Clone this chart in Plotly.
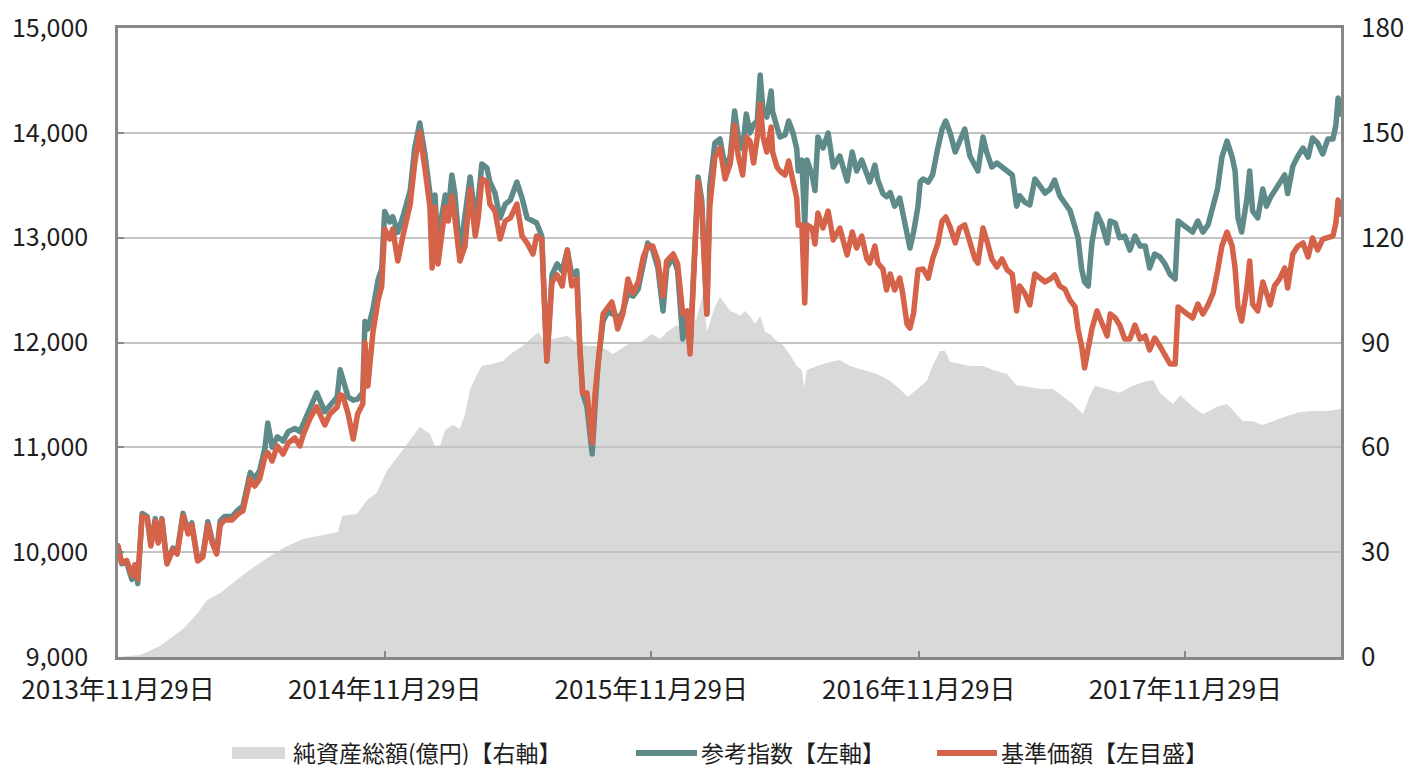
import pandas as pd
import plotly.graph_objects as go

# ---------------- data ----------------
start_date = "2013-11-29"
end_date = "2018-06-30"

# observation dates expressed as days since 2013-11-29
line_days = [
    0, 5, 12, 19, 23, 27, 33, 40, 45, 51, 55, 60, 67, 75, 81, 89, 96, 101, 109, 116,
    123, 129, 135, 140, 146, 156, 164, 171, 181, 187, 194, 201, 205, 211, 218, 226, 233, 242, 249, 253,
    263, 272, 283, 290, 300, 304, 308, 315, 322, 328, 335, 338, 342, 349, 356, 361, 365, 372, 376, 383,
    390, 396, 400, 406, 413, 420, 427, 430, 434, 438, 443, 448, 452, 457, 461, 468, 475, 482, 489, 493,
    498, 505, 509, 516, 523, 530, 537, 546, 553, 560, 568, 573, 580, 587, 594, 601, 608, 615, 621, 628,
    632, 636, 642, 649, 653, 657, 664, 671, 676, 680, 684, 691, 698, 705, 712, 719, 725, 732, 739, 746,
    751, 760, 766, 773, 779, 783, 787, 794, 799, 806, 810, 817, 824, 831, 838, 844, 849, 855, 860, 865,
    870, 875, 879, 883, 888, 894, 896, 902, 906, 913, 918, 924, 929, 931, 936, 940, 943, 950, 954, 958,
    965, 972, 979, 988, 998, 1005, 1011, 1018, 1025, 1029, 1036, 1040, 1047, 1052, 1057, 1063, 1070, 1074, 1080, 1084,
    1089, 1095, 1098, 1102, 1109, 1115, 1122, 1128, 1133, 1139, 1146, 1152, 1159, 1166, 1173, 1177, 1184, 1189, 1196, 1203,
    1210, 1217, 1224, 1230, 1234, 1241, 1248, 1255, 1262, 1269, 1276, 1282, 1289, 1296, 1303, 1310, 1314, 1319, 1323, 1328,
    1333, 1340, 1347, 1354, 1358, 1365, 1371, 1378, 1385, 1392, 1399, 1406, 1412, 1419, 1426, 1433, 1440, 1447, 1451, 1458,
    1464, 1471, 1478, 1485, 1492, 1499, 1505, 1511, 1518, 1525, 1529, 1533, 1538, 1545, 1549, 1553, 1560, 1567, 1572, 1577,
    1583, 1590, 1597, 1601, 1608, 1615, 1622, 1629, 1635, 1642, 1649, 1656, 1663, 1667, 1670, 1674,
]

# 基準価額 (left axis)
nav = [
    10050, 9900, 9920, 9780, 9880, 9744, 10345, 10326, 10059, 10297, 10087, 10307, 9887, 10021, 9982, 10345, 10173, 10259, 9916, 9954,
    10259, 10087, 9982, 10259, 10307, 10307, 10364, 10393, 10698, 10631, 10698, 10908, 10950, 10870, 11013, 10936, 11041, 11089, 11013, 11108,
    11280, 11385, 11213, 11318, 11385, 11500, 11490, 11318, 11079, 11318, 11413, 12000, 11585, 12100, 12405, 12539, 13083, 12987, 13083, 12777,
    13016, 13188, 13321, 13703, 14008, 13665, 13292, 12711, 13292, 12749, 12987, 13292, 13159, 13398, 13188, 12777, 12920, 13464, 13016, 13188,
    13560, 13531, 13321, 13254, 12987, 13159, 13188, 13321, 13016, 12949, 12844, 13016, 12987, 11824, 12577, 12644, 12539, 12882, 12539, 12606,
    11967, 11518, 11518, 11041, 11518, 11795, 12272, 12339, 12386, 12272, 12129, 12272, 12606, 12472, 12577, 12816, 12920, 12920, 12777, 12443,
    12777, 12844, 12749, 12272, 12301, 11891, 12606, 13531, 13292, 12272, 13292, 13769, 13855, 13560, 13703, 14075, 13779, 13598, 13960, 13922,
    13712, 13960, 14275, 13960, 13817, 14056, 13817, 13674, 13636, 13598, 13731, 13560, 13378, 13121, 13121, 12377, 13121, 13092, 12940, 13235,
    13092, 13254, 12978, 13092, 12835, 13054, 12901, 13016, 12797, 12758, 12920, 12758, 12701, 12501, 12653, 12501, 12615, 12472, 12176, 12138,
    12281, 12692, 12701, 12701, 12615, 12797, 12940, 13159, 13197, 13100, 12950, 13092, 13121, 12978, 12797, 12758, 13092, 12978, 12797, 12720,
    12797, 12692, 12653, 12301, 12539, 12472, 12358, 12653, 12606, 12577, 12606, 12644, 12539, 12510, 12405, 12339, 12129, 11967, 11757, 11928,
    12129, 12301, 12167, 12062, 12272, 12234, 12167, 12033, 12033, 12167, 12033, 12062, 11928, 12043, 11967, 11890, 11795, 11795, 12339, 12301,
    12272, 12234, 12367, 12272, 12358, 12472, 12682, 12920, 13054, 12920, 12711, 12339, 12205, 12510, 12777, 12367, 12301, 12577, 12472, 12358,
    12539, 12606, 12711, 12520, 12844, 12920, 12949, 12816, 12997, 12882, 12987, 12997, 13016, 13140, 13359, 13226,
]

# 参考指数 (left axis)
ref_index = [
    10060, 9890, 9900, 9740, 9870, 9700, 10370, 10340, 10070, 10320, 10100, 10320, 9900, 10040, 10000, 10370, 10200, 10280, 9930, 9970,
    10290, 10110, 10000, 10300, 10340, 10340, 10400, 10440, 10760, 10700, 10780, 10990, 11232, 11000, 11100, 11060, 11150, 11180, 11150, 11220,
    11380, 11520, 11340, 11400, 11480, 11740, 11640, 11480, 11450, 11460, 11520, 12200, 12130, 12320, 12600, 12700, 13250, 13150, 13200, 13050,
    13200, 13380, 13450, 13850, 14094, 13800, 13420, 12850, 13407, 12850, 13200, 13407, 13250, 13598, 13426, 12844, 13188, 13579, 13188, 13350,
    13703, 13665, 13531, 13426, 13188, 13320, 13359, 13531, 13380, 13188, 13159, 13140, 13016, 11824, 12644, 12749, 12682, 12882, 12644, 12682,
    11967, 11518, 11385, 10936, 11385, 11795, 12205, 12301, 12272, 12272, 12205, 12301, 12472, 12443, 12510, 12749, 12949, 12880, 12711, 12301,
    12711, 12816, 12682, 12033, 12272, 11928, 12577, 13579, 13359, 12272, 13493, 13903, 13941, 13665, 13779, 14208, 13960, 13850, 14180, 13998,
    14080, 14113, 14552, 14200, 14151, 14399, 14200, 14050, 13960, 13980, 14113, 13998, 13850, 13636, 13741, 13121, 13741, 13598, 13450, 13960,
    13855, 13998, 13674, 13779, 13541, 13817, 13636, 13741, 13598, 13531, 13693, 13550, 13420, 13390, 13430, 13300, 13378, 13235, 13000, 12901,
    13054, 13300, 13531, 13560, 13530, 13600, 13850, 14036, 14113, 13998, 13817, 13922, 14036, 13779, 13680, 13636, 13960, 13817, 13674, 13712,
    13674, 13636, 13598, 13300, 13400, 13340, 13312, 13560, 13493, 13426, 13464, 13550, 13400, 13330, 13260, 13100, 13000, 12700, 12577, 12539,
    12949, 13226, 13121, 12949, 13159, 13140, 13000, 13016, 12882, 13016, 12920, 12920, 12711, 12844, 12816, 12749, 12650, 12606, 13159, 13121,
    13083, 13054, 13159, 13054, 13121, 13292, 13464, 13769, 13922, 13769, 13636, 13188, 13054, 13359, 13636, 13254, 13188, 13464, 13300, 13380,
    13450, 13531, 13598, 13420, 13680, 13779, 13855, 13769, 13951, 13903, 13798, 13941, 13941, 14075, 14332, 14180,
]

# 純資産総額(億円) (right axis)
aum_days = [
    0, 20, 30, 57, 71, 89, 108, 122, 140, 171, 198, 226, 253, 272, 290, 301, 307, 327, 341, 354,
    368, 382, 396, 404, 413, 427, 434, 441, 448, 458, 468, 475, 482, 491, 498, 513, 527, 541, 554, 575,
    582, 595, 615, 628, 642, 656, 669, 677, 687, 701, 714, 731, 742, 751, 765, 779, 792, 801, 806, 817,
    824, 838, 847, 851, 858, 865, 872, 879, 886, 892, 902, 910, 920, 929, 936, 939, 943, 957, 974, 988,
    1002, 1020, 1039, 1057, 1070, 1081, 1094, 1107, 1115, 1125, 1132, 1139, 1152, 1166, 1184, 1198, 1217, 1230, 1248, 1262,
    1280, 1293, 1307, 1321, 1330, 1337, 1354, 1371, 1389, 1403, 1417, 1426, 1444, 1454, 1471, 1485, 1504, 1518, 1531, 1540,
    1553, 1567, 1581, 1600, 1618, 1635, 1655, 1674,
]
aum = [
    0, 0.3, 0.6, 3.1, 5.2, 8.0, 12.3, 16.3, 18.3, 23.5, 27.5, 31.2, 33.8, 34.6, 35.2, 35.8, 40.4, 40.9, 44.9, 46.9,
    53.2, 57.2, 61.2, 63.3, 65.8, 63.8, 60.4, 60.7, 65.0, 66.4, 65.3, 69.5, 76.7, 80.7, 83.3, 83.9, 84.7, 87.3, 89.0, 93.0,
    91.0, 91.0, 91.9, 89.9, 89.0, 89.0, 87.9, 86.7, 87.9, 89.9, 89.9, 92.4, 91.0, 93.0, 95.0, 92.4, 97.0, 104.2, 93.0, 100.2,
    103.0, 99.0, 98.2, 97.6, 99.0, 97.6, 95.3, 97.6, 93.0, 92.4, 90.4, 89.3, 86.4, 83.3, 82.1, 77.3, 82.1, 83.3, 84.4, 85.0,
    83.3, 82.1, 81.0, 79.0, 76.7, 74.4, 76.7, 79.0, 83.3, 87.6, 87.6, 84.4, 83.9, 83.3, 83.3, 82.1, 81.0, 77.8, 77.3, 76.7,
    76.7, 74.7, 72.4, 69.5, 74.7, 77.6, 76.7, 75.6, 77.6, 78.7, 79.3, 75.6, 72.4, 75.0, 71.6, 69.5, 71.6, 72.4, 69.5, 67.5,
    67.5, 66.4, 67.5, 69.0, 70.1, 70.4, 70.4, 71.0,
]

tick_dates = ["2013-11-29", "2014-11-29", "2015-11-29", "2016-11-29", "2017-11-29"]
tick_labels = ["2013年11月29日", "2014年11月29日", "2015年11月29日", "2016年11月29日", "2017年11月29日"]
left_ticks = [9000, 10000, 11000, 12000, 13000, 14000, 15000]
right_ticks = [0, 30, 60, 90, 120, 150, 180]
series_names = ["純資産総額(億円)【右軸】", "参考指数【左軸】", "基準価額【左目盛】"]

# ---------------- style ----------------
AREA = "#D9D9D9"
TEAL = "#5E8A89"
ORANGE = "#D5634A"
FRAME = "#878787"
GRID = "#C4C4C4"
TEXT = "#1E1E1E"
FONT = "Noto Sans CJK JP"

W, H = 1408, 765
ML, MR, MT, MB = 118, 67, 28, 108
PW, PH = W - ML - MR, H - MT - MB

start = pd.Timestamp(start_date)
line_dates = start + pd.to_timedelta(line_days, unit="D")
aum_dates = start + pd.to_timedelta(aum_days, unit="D")
xrange = [start_date, end_date]

fig = go.Figure()
fig.add_trace(go.Scatter(
    x=aum_dates, y=aum, name=series_names[0], xaxis="x", yaxis="y",
    mode="lines", fill="tozeroy", fillcolor=AREA, line=dict(width=0, color=AREA),
    showlegend=False, hoverinfo="skip"))
fig.add_trace(go.Scatter(
    x=line_dates, y=ref_index, name=series_names[1], xaxis="x2", yaxis="y2",
    mode="lines", line=dict(color=TEAL, width=5.5), showlegend=False))
fig.add_trace(go.Scatter(
    x=line_dates, y=nav, name=series_names[2], xaxis="x2", yaxis="y2",
    mode="lines", line=dict(color=ORANGE, width=5.5), showlegend=False))

xtickfont = dict(family=FONT, size=26, color=TEXT)
ltickfont = dict(family=FONT, size=25, color=TEXT)

fig.update_layout(
    template="none",
    width=W, height=H, autosize=False,
    margin=dict(l=ML, r=MR, t=MT, b=MB, autoexpand=False),
    paper_bgcolor="white", plot_bgcolor="rgba(0,0,0,0)",
    font=dict(family=FONT, color=TEXT),
    xaxis=dict(domain=[0, 1], anchor="y", type="date", range=xrange, automargin=False,
               tickvals=tick_dates, ticktext=tick_labels, ticks="",
               showline=False, showgrid=False, zeroline=False,
               tickfont=xtickfont, ticklabelstandoff=15),
    yaxis=dict(anchor="x", side="right", range=[0, 180], tickvals=right_ticks, automargin=False,
               ticks="inside", ticklen=6, tickwidth=2, tickcolor=FRAME,
               showline=False, showgrid=False, zeroline=False,
               tickfont=xtickfont, ticklabelstandoff=19),
    xaxis2=dict(domain=[0, 1], anchor="y2", type="date", range=xrange, automargin=False,
                tickvals=tick_dates, ticks="inside", ticklen=6, tickwidth=2, tickcolor=FRAME,
                showticklabels=False, showline=True, linecolor=FRAME, linewidth=2.5,
                mirror=True, showgrid=False, zeroline=False),
    yaxis2=dict(anchor="x2", side="left", range=[9000, 15000], tickvals=left_ticks, automargin=False,
                tickformat=",d", ticks="inside", ticklen=6, tickwidth=2, tickcolor=FRAME,
                showline=True, linecolor=FRAME, linewidth=2.5, mirror=True,
                showgrid=True, gridcolor=GRID, gridwidth=2, zeroline=False,
                tickfont=ltickfont, ticklabelstandoff=22),
)

# ---------------- legend (drawn below the plot) ----------------
def px(x):
    return (x - ML) / PW

def py(y):
    return (H - MB - y) / PH

legend_y = 752
shapes = [
    dict(type="rect", xref="paper", yref="paper", x0=px(232), x1=px(285),
         y0=py(759), y1=py(747), fillcolor=AREA, line=dict(width=0)),
    dict(type="line", xref="paper", yref="paper", x0=px(636), x1=px(697),
         y0=py(753), y1=py(753), line=dict(color=TEAL, width=6)),
    dict(type="line", xref="paper", yref="paper", x0=px(937), x1=px(997),
         y0=py(753), y1=py(753), line=dict(color=ORANGE, width=6)),
]
text_x = [292, 700, 1000]
annotations = [
    dict(xref="paper", yref="paper", x=px(tx), y=py(legend_y), text=name,
         showarrow=False, xanchor="left", yanchor="middle", borderpad=0,
         font=dict(family=FONT, size=23, color=TEXT))
    for tx, name in zip(text_x, series_names)
]
fig.update_layout(shapes=shapes, annotations=annotations)

post = (
    "document.body.style.margin='0';"
    "document.body.style.overflow='hidden';"
    "document.querySelectorAll('.scatterlayer .js-line').forEach(function(p){"
    "p.style.strokeLinejoin='round';p.style.strokeLinecap='round';});"
)
fig.write_html(
    "out.html",
    config={"displayModeBar": False, "responsive": False},
    post_script=post,
)
